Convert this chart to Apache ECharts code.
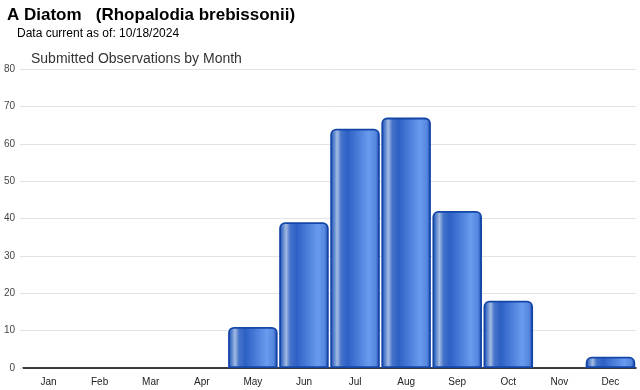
<!DOCTYPE html>
<html><head><meta charset="utf-8">
<script src="https://cdn.jsdelivr.net/npm/echarts@6/dist/echarts.min.js"></script>
<style>html,body{margin:0;padding:0;background:#fff}#c{width:640px;height:390px}</style>
</head><body><div id="c"></div>
<script>
const months = ['Jan','Feb','Mar','Apr','May','Jun','Jul','Aug','Sep','Oct','Nov','Dec'];
const observations = [0,0,0,0,11,39,64,67,42,18,0,3];
const yTicks = [0,10,20,30,40,50,60,70,80];

const chart = echarts.init(document.getElementById('c'));
const barGrad = new echarts.graphic.LinearGradient(0,0,1,0,[
  {offset:0,color:'#1a4ab0'},
  {offset:0.07,color:'#5580cc'},
  {offset:0.14,color:'#a3bbe2'},
  {offset:0.22,color:'#4674ca'},
  {offset:0.35,color:'#2c60c4'},
  {offset:0.78,color:'#6a9bef'},
  {offset:0.92,color:'#5686de'},
  {offset:1,color:'#1644a8'}
]);
chart.setOption({
  animation:false,
  title:[
    {text:'A Diatom   (Rhopalodia brebissonii)',left:2,top:2,textStyle:{fontFamily:'Liberation Sans, Arial',fontSize:17,fontWeight:'bold',color:'#000'}},
    {text:'Data current as of: 10/18/2024',left:12,top:23,textStyle:{fontFamily:'Liberation Sans, Arial',fontSize:12,fontWeight:'normal',color:'#000'}},
    {text:'Submitted Observations by Month',left:26,top:47,textStyle:{fontFamily:'Liberation Sans, Arial',fontSize:14,fontWeight:'normal',color:'#333'}}
  ],
  grid:{left:23,right:4,top:69,bottom:22},
  xAxis:{type:'category',data:months,
    axisLine:{lineStyle:{color:'#000',width:1.5}},
    axisTick:{alignWithLabel:true,length:4,lineStyle:{color:'#ccc'}},
    axisLabel:{fontFamily:'Liberation Sans, Arial',fontSize:10,color:'#222',margin:9}},
  yAxis:{type:'value',min:yTicks[0],max:yTicks[yTicks.length-1],interval:10,
    axisLine:{show:false},
    axisTick:{show:true,length:3,lineStyle:{color:'#e0e0e0'}},
    splitLine:{lineStyle:{color:'#e3e3e3'}},
    axisLabel:{fontFamily:'Liberation Sans, Arial',fontSize:10,color:'#444',margin:8}},
  series:[{type:'bar',data:observations.map(v => v === 0 ? '-' : v),barCategoryGap:'3%',z:1,
    itemStyle:{color:barGrad,borderColor:'#1446a8',borderWidth:1.8,borderRadius:[5,5,0,0]}}]
});
</script></body></html>
